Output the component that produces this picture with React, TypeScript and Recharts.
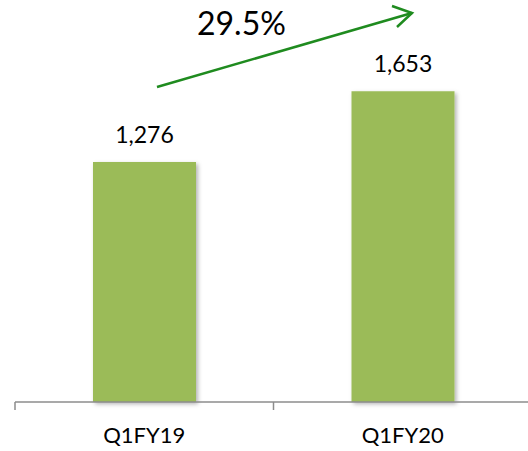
import React from 'react';
import { BarChart, Bar, XAxis, YAxis, LabelList } from 'recharts';

const quarters = ['Q1FY19', 'Q1FY20'];
const volumes = [1276, 1653];

const data = quarters.map((q, i) => ({ quarter: q, value: volumes[i] }));
const growth = ((volumes[1] / volumes[0] - 1) * 100).toFixed(1) + '%';

const FONT = 'Lato, "Open Sans", sans-serif';
const AXIS_COLOR = '#8c8c8c';
const ARROW_GREEN = '#1f8b1f';

// label centred in the band, tick mark at the band's left edge
const QuarterTick = (props: any) => {
  const { x, y, payload } = props;
  const off = payload.offset || 0;
  return (
    <g>
      <line x1={x - off} y1={y - 8} x2={x - off} y2={y} stroke={AXIS_COLOR} strokeWidth={1.5} />
      <text x={x} y={y + 33} textAnchor="middle" fontSize={22} fontFamily={FONT} fill="#000">
        {payload.value}
      </text>
    </g>
  );
};

export default function App() {
  return (
    <div style={{ position: 'absolute', left: 0, top: 0, width: 528, height: 451, background: '#fff', overflow: 'hidden' }}>
      <BarChart
        width={528}
        height={451}
        data={data}
        margin={{ top: 26, right: -4, bottom: 0, left: 15 }}
        barSize={103}
      >
        <defs>
          <filter id="barShadow" x="-10%" y="-10%" width="130%" height="130%">
            <feDropShadow dx="2" dy="2" stdDeviation="2" floodColor="#000" floodOpacity="0.3" />
          </filter>
        </defs>
        <YAxis hide domain={[0, 2000]} />
        <XAxis
          dataKey="quarter"
          height={49}
          axisLine={{ stroke: AXIS_COLOR, strokeWidth: 1.5 }}
          tickLine={false}
          tickSize={8}
          tickMargin={0}
          interval={0}
          tick={<QuarterTick />}
        />
        <Bar dataKey="value" fill="#9bbb59" filter="url(#barShadow)" isAnimationActive={false}>
          <LabelList
            dataKey="value"
            position="top"
            offset={19}
            formatter={(v: any) => Number(v).toLocaleString('en-US')}
            style={{ fontSize: 23, fontFamily: FONT, fill: '#000' }}
          />
        </Bar>
      </BarChart>
      <svg width={528} height={451} style={{ position: 'absolute', left: 0, top: 0, pointerEvents: 'none' }}>
        <text x={197} y={35} fontSize={32} fontFamily={FONT} fill="#000">
          {growth}
        </text>
        <line x1={157} y1={87} x2={412} y2={13} stroke={ARROW_GREEN} strokeWidth={2.5} />
        <polyline
          points="392,6 412,13 397,27"
          fill="none"
          stroke={ARROW_GREEN}
          strokeWidth={2.5}
          strokeLinejoin="miter"
        />
      </svg>
    </div>
  );
}
